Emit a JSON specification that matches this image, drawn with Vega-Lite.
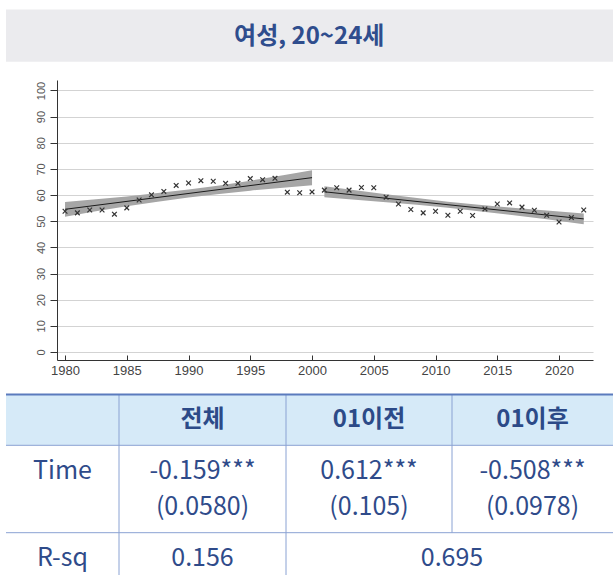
{
  "$schema": "https://vega.github.io/schema/vega-lite/v6.json",
  "width": 536,
  "height": 280,
  "autosize": {"type": "none"},
  "padding": {"left": 57, "top": 80, "right": 20, "bottom": 215},
  "background": "#ffffff",
  "config": {"view": {"stroke": null}},
  "datasets": {
    "series": [
      {"year": 1980, "value": 53.8, "seg": "pre"},
      {"year": 1981, "value": 53.2, "seg": "pre"},
      {"year": 1982, "value": 54.3, "seg": "pre"},
      {"year": 1983, "value": 54.3, "seg": "pre"},
      {"year": 1984, "value": 52.7, "seg": "pre"},
      {"year": 1985, "value": 55.1, "seg": "pre"},
      {"year": 1986, "value": 58.1, "seg": "pre"},
      {"year": 1987, "value": 60.1, "seg": "pre"},
      {"year": 1988, "value": 61.4, "seg": "pre"},
      {"year": 1989, "value": 63.7, "seg": "pre"},
      {"year": 1990, "value": 64.6, "seg": "pre"},
      {"year": 1991, "value": 65.5, "seg": "pre"},
      {"year": 1992, "value": 65.3, "seg": "pre"},
      {"year": 1993, "value": 64.5, "seg": "pre"},
      {"year": 1994, "value": 64.5, "seg": "pre"},
      {"year": 1995, "value": 66.3, "seg": "pre"},
      {"year": 1996, "value": 65.9, "seg": "pre"},
      {"year": 1997, "value": 66.4, "seg": "pre"},
      {"year": 1998, "value": 61.1, "seg": "pre"},
      {"year": 1999, "value": 60.9, "seg": "pre"},
      {"year": 2000, "value": 61.2, "seg": "pre"},
      {"year": 2001, "value": 61.9, "seg": "post"},
      {"year": 2002, "value": 62.8, "seg": "post"},
      {"year": 2003, "value": 61.9, "seg": "post"},
      {"year": 2004, "value": 62.9, "seg": "post"},
      {"year": 2005, "value": 62.8, "seg": "post"},
      {"year": 2006, "value": 59.2, "seg": "post"},
      {"year": 2007, "value": 56.6, "seg": "post"},
      {"year": 2008, "value": 54.5, "seg": "post"},
      {"year": 2009, "value": 53.2, "seg": "post"},
      {"year": 2010, "value": 53.8, "seg": "post"},
      {"year": 2011, "value": 52.3, "seg": "post"},
      {"year": 2012, "value": 53.8, "seg": "post"},
      {"year": 2013, "value": 52.2, "seg": "post"},
      {"year": 2014, "value": 54.7, "seg": "post"},
      {"year": 2015, "value": 56.6, "seg": "post"},
      {"year": 2016, "value": 57.0, "seg": "post"},
      {"year": 2017, "value": 55.4, "seg": "post"},
      {"year": 2018, "value": 54.2, "seg": "post"},
      {"year": 2019, "value": 52.3, "seg": "post"},
      {"year": 2020, "value": 49.7, "seg": "post"},
      {"year": 2021, "value": 51.4, "seg": "post"},
      {"year": 2022, "value": 54.3, "seg": "post"}
    ],
    "ci": [
      {"seg": "pre", "year": 1980, "lo": 51.7, "hi": 57.4},
      {"seg": "pre", "year": 1985, "lo": 55.7, "hi": 59.5},
      {"seg": "pre", "year": 1990, "lo": 59.1, "hi": 62.1},
      {"seg": "pre", "year": 1995, "lo": 61.7, "hi": 65.5},
      {"seg": "pre", "year": 2000, "lo": 63.8, "hi": 69.5},
      {"seg": "post", "year": 2001, "lo": 59.15, "hi": 63.35},
      {"seg": "post", "year": 2006, "lo": 57.24, "hi": 60.32},
      {"seg": "post", "year": 2011, "lo": 55.16, "hi": 57.48},
      {"seg": "post", "year": 2016, "lo": 52.43, "hi": 55.27},
      {"seg": "post", "year": 2022, "lo": 48.85, "hi": 52.95}
    ],
    "heading": [{"label": "여성, 20~24세"}],
    "cells": [
      {"kind": "head", "col": 1.5, "row": 2.5, "text": "전체"},
      {"kind": "head", "col": 2.5, "row": 2.5, "text": "01이전"},
      {"kind": "head", "col": 3.5, "row": 2.5, "text": "01이후"},
      {"kind": "time", "col": 0.5, "row": 3.5, "text": "Time"},
      {"kind": "time", "col": 1.5, "row": 3.5, "text": "-0.159***\n(0.0580)"},
      {"kind": "time", "col": 2.5, "row": 3.5, "text": "0.612***\n(0.105)"},
      {"kind": "time", "col": 3.5, "row": 3.5, "text": "-0.508***\n(0.0978)"},
      {"kind": "rsq", "col": 0.5, "row": 4.5, "text": "R-sq"},
      {"kind": "rsq", "col": 1.5, "row": 4.5, "text": "0.156"},
      {"kind": "rsq", "col": 3, "row": 4.5, "text": "0.695"}
    ],
    "rules": [
      {"x0": 0, "x1": 4, "y0": 3, "y1": 3},
      {"x0": 0, "x1": 4, "y0": 4, "y1": 4},
      {"x0": 1, "x1": 1, "y0": 2, "y1": 5},
      {"x0": 2, "x1": 2, "y0": 2, "y1": 5},
      {"x0": 3, "x1": 3, "y0": 2, "y1": 4}
    ]
  },
  "layer": [
    {
      "encoding": {
        "x": {
          "type": "quantitative",
          "scale": {"domain": [1979.35, 2022.75], "nice": false, "zero": false},
          "axis": {
            "values": [1980, 1985, 1990, 1995, 2000, 2005, 2010, 2015, 2020],
            "format": "d", "title": null, "grid": false,
            "tickSize": -5, "labelPadding": 9, "labelFlush": false, "labelOverlap": false,
            "labelFont": "Liberation Sans", "labelFontSize": 13, "labelColor": "#444444",
            "domainColor": "#333333", "tickColor": "#333333"
          }
        },
        "y": {
          "type": "quantitative",
          "scale": {"domain": [-3.06, 104], "nice": false, "zero": false},
          "axis": {
            "values": [0, 10, 20, 30, 40, 50, 60, 70, 80, 90, 100],
            "tickCount": 11,
            "format": "d", "title": null, "grid": true, "gridColor": "#d3d3d3",
            "tickSize": 7, "labelAngle": -90, "labelAlign": "center", "labelBaseline": "bottom",
            "labelOverlap": false, "labelFlush": false,
            "labelPadding": 4, "labelFont": "Liberation Sans", "labelFontSize": 11, "labelColor": "#555555",
            "domainColor": "#333333", "tickColor": "#333333"
          }
        }
      },
      "layer": [
        {
          "data": {"name": "ci"},
          "mark": {"type": "area", "color": "#a6a6a6", "opacity": 1, "interpolate": "monotone"},
          "encoding": {
            "x": {"field": "year"},
            "y": {"field": "lo"},
            "y2": {"field": "hi"},
            "detail": {"field": "seg"}
          }
        },
        {
          "data": {"name": "series"},
          "transform": [{"regression": "value", "on": "year", "groupby": ["seg"]}],
          "mark": {"type": "line", "color": "#1c1c1c", "strokeWidth": 1},
          "encoding": {
            "x": {"field": "year"},
            "y": {"field": "value"},
            "detail": {"field": "seg"}
          }
        },
        {
          "data": {"name": "series"},
          "mark": {"type": "point", "shape": "M-1,-1L1,1M1,-1L-1,1", "filled": false, "stroke": "#333333", "strokeWidth": 1.2, "size": 22, "opacity": 1},
          "encoding": {
            "x": {"field": "year"},
            "y": {"field": "value"}
          }
        }
      ]
    },
    {
      "layer": [
        {
          "data": {"name": "heading"},
          "mark": {"type": "rect", "color": "#ebebee"},
          "encoding": {
            "x": {"datum": 0, "type": "quantitative", "scale": {"domain": [0, 1, 2, 3, 4], "range": [-51, 62, 229, 395, 556], "zero": false, "nice": false}, "axis": null},
            "x2": {"datum": 4},
            "y": {"datum": 0, "type": "quantitative", "scale": {"domain": [0, 1, 2, 3, 4, 5], "range": [-70.5, -18.3, 314.5, 365.3, 452.7, 502.7], "zero": false, "nice": false}, "axis": null},
            "y2": {"datum": 1}
          }
        },
        {
          "data": {"name": "heading"},
          "mark": {"type": "text", "font": "Noto Sans CJK KR", "fontSize": 24, "fontWeight": "bold", "color": "#2f4d8d", "align": "center", "baseline": "middle"},
          "encoding": {
            "x": {"datum": 2.14, "type": "quantitative"},
            "y": {"datum": 0.53, "type": "quantitative"},
            "text": {"field": "label"}
          }
        },
        {
          "data": {"name": "heading"},
          "mark": {"type": "rect", "color": "#d6eaf8"},
          "encoding": {
            "x": {"datum": 0, "type": "quantitative"},
            "x2": {"datum": 4},
            "y": {"datum": 2, "type": "quantitative"},
            "y2": {"datum": 3}
          }
        },
        {
          "data": {"name": "rules"},
          "mark": {"type": "rule", "color": "#8aa2d3", "strokeWidth": 1},
          "encoding": {
            "x": {"field": "x0", "type": "quantitative"},
            "x2": {"field": "x1"},
            "y": {"field": "y0", "type": "quantitative"},
            "y2": {"field": "y1"}
          }
        },
        {
          "data": {"name": "heading"},
          "mark": {"type": "rule", "color": "#5b7bbd", "strokeWidth": 2},
          "encoding": {
            "x": {"datum": 0, "type": "quantitative"},
            "x2": {"datum": 4},
            "y": {"datum": 2, "type": "quantitative"}
          }
        },
        {
          "data": {"name": "cells"},
          "transform": [{"filter": "datum.kind === 'head'"}],
          "mark": {"type": "text", "font": "Noto Sans CJK KR", "fontSize": 24, "fontWeight": "bold", "color": "#2c4a88", "align": "center", "baseline": "middle"},
          "encoding": {
            "x": {"field": "col", "type": "quantitative"},
            "y": {"field": "row", "type": "quantitative"},
            "text": {"field": "text"}
          }
        },
        {
          "data": {"name": "cells"},
          "transform": [{"filter": "datum.kind === 'time'"}],
          "mark": {"type": "text", "font": "Noto Sans CJK KR", "fontSize": 25, "color": "#2f4b8a", "align": "center", "baseline": "middle", "lineBreak": "\n", "lineHeight": 36, "dy": -18},
          "encoding": {
            "x": {"field": "col", "type": "quantitative"},
            "y": {"field": "row", "type": "quantitative"},
            "text": {"field": "text"}
          }
        },
        {
          "data": {"name": "cells"},
          "transform": [{"filter": "datum.kind === 'rsq'"}],
          "mark": {"type": "text", "font": "Noto Sans CJK KR", "fontSize": 25, "color": "#2f4b8a", "align": "center", "baseline": "middle"},
          "encoding": {
            "x": {"field": "col", "type": "quantitative"},
            "y": {"field": "row", "type": "quantitative"},
            "text": {"field": "text"}
          }
        }
      ]
    }
  ],
  "resolve": {"scale": {"x": "independent", "y": "independent"}}
}
